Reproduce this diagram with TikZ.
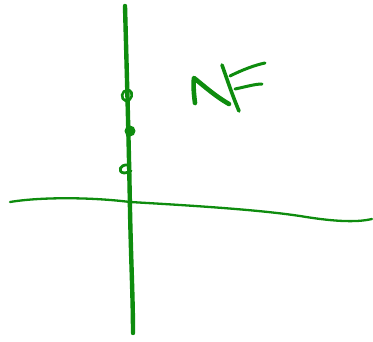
\documentclass[tikz,border=0pt]{standalone}
\definecolor{pen}{RGB}{14,140,14}
\begin{document}
\begin{tikzpicture}[x=1pt,y=-1pt,
  stroke/.style={draw=pen,line cap=round,line join=round}]
\useasboundingbox (0,0) rectangle (373,342);
% vertical axis
\draw[stroke,line width=4.4pt] (125,6) .. controls (127,80) and (129,150) .. (130,210) .. controls (131,260) and (133,300) .. (133,333);
% horizontal axis
\draw[stroke,line width=2.3pt] (10,202) .. controls (40,197) and (90,197) .. (130,202) .. controls (200,206) and (260,210) .. (300,216) .. controls (330,221) and (355,223) .. (372,219);
% marks on axis
\draw[stroke,line width=2.6pt] (128,91) .. controls (121,89) and (120,100) .. (126,101) .. controls (132,101) and (134,92) .. (129,90);
\fill[pen] (130,131) circle (5.5);
\draw[stroke,line width=2.8pt] (128,165) .. controls (120,164) and (117,172) .. (124,173) .. controls (127,173) and (129,172) .. (131,171);
% NF
\draw[stroke,line width=4.6pt] (195,103) .. controls (194,95) and (193,85) .. (194,78) .. controls (204,86) and (215,96) .. (229,104);
\draw[stroke,line width=3.6pt] (222,65) .. controls (228,82) and (233,97) .. (239,111);
\draw[stroke,line width=3pt] (230,76) .. controls (242,70) and (255,65) .. (265,63);
\draw[stroke,line width=3pt] (235,89) .. controls (245,87) and (255,84) .. (262,84);
\end{tikzpicture}
\end{document}
